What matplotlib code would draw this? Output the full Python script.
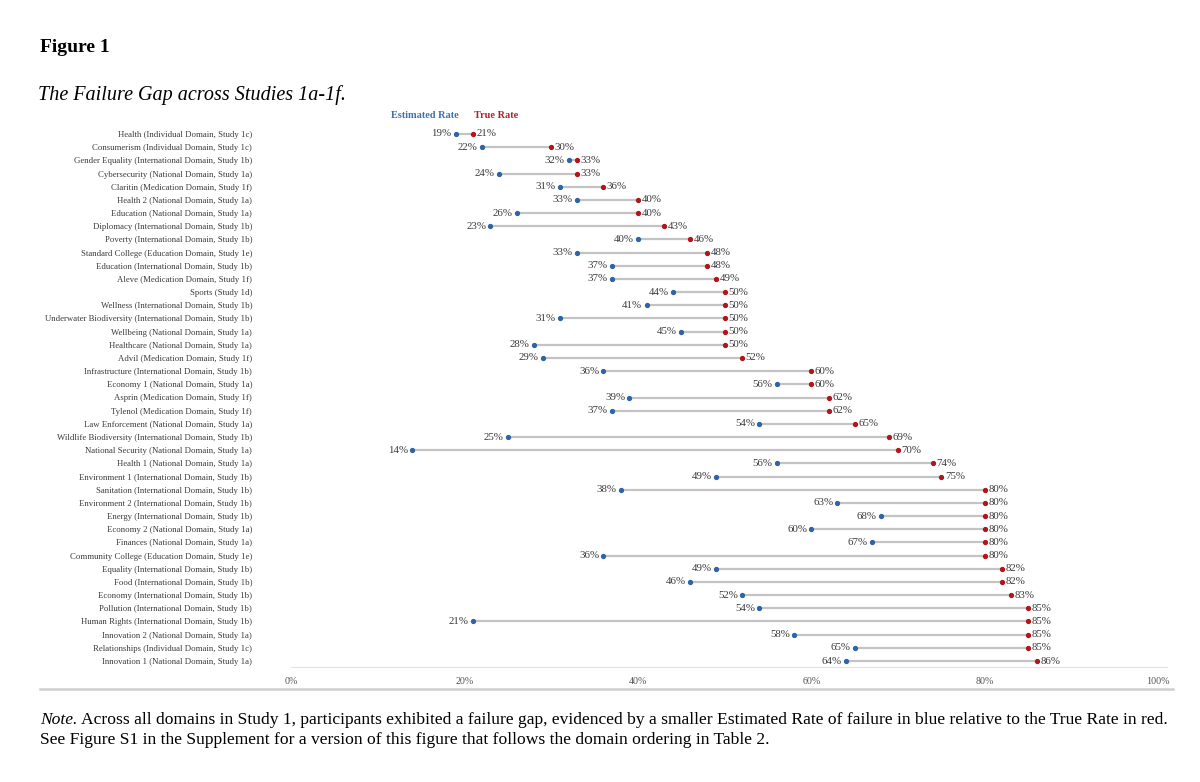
import matplotlib
matplotlib.use("Agg")
import matplotlib.pyplot as plt
from matplotlib.lines import Line2D

Domains = [
    "Health (Individual Domain, Study 1c)",
    "Consumerism (Individual Domain, Study 1c)",
    "Gender Equality (International Domain, Study 1b)",
    "Cybersecurity (National Domain, Study 1a)",
    "Claritin (Medication Domain, Study 1f)",
    "Health 2 (National Domain, Study 1a)",
    "Education (National Domain, Study 1a)",
    "Diplomacy (International Domain, Study 1b)",
    "Poverty (International Domain, Study 1b)",
    "Standard College (Education Domain, Study 1e)",
    "Education (International Domain, Study 1b)",
    "Aleve (Medication Domain, Study 1f)",
    "Sports (Study 1d)",
    "Wellness (International Domain, Study 1b)",
    "Underwater Biodiversity (International Domain, Study 1b)",
    "Wellbeing (National Domain, Study 1a)",
    "Healthcare (National Domain, Study 1a)",
    "Advil (Medication Domain, Study 1f)",
    "Infrastructure (International Domain, Study 1b)",
    "Economy 1 (National Domain, Study 1a)",
    "Asprin (Medication Domain, Study 1f)",
    "Tylenol (Medication Domain, Study 1f)",
    "Law Enforcement (National Domain, Study 1a)",
    "Wildlife Biodiversity (International Domain, Study 1b)",
    "National Security (National Domain, Study 1a)",
    "Health 1 (National Domain, Study 1a)",
    "Environment 1 (International Domain, Study 1b)",
    "Sanitation (International Domain, Study 1b)",
    "Environment 2 (International Domain, Study 1b)",
    "Energy (International Domain, Study 1b)",
    "Economy 2 (National Domain, Study 1a)",
    "Finances (National Domain, Study 1a)",
    "Community College (Education Domain, Study 1e)",
    "Equality (International Domain, Study 1b)",
    "Food (International Domain, Study 1b)",
    "Economy (International Domain, Study 1b)",
    "Pollution (International Domain, Study 1b)",
    "Human Rights (International Domain, Study 1b)",
    "Innovation 2 (National Domain, Study 1a)",
    "Relationships (Individual Domain, Study 1c)",
    "Innovation 1 (National Domain, Study 1a)",
]

EstimatedRate = [19, 22, 32, 24, 31, 33, 26, 23, 40, 33, 37, 37, 44, 41, 31, 45, 28, 29, 36, 56,
                 39, 37, 54, 25, 14, 56, 49, 38, 63, 68, 60, 67, 36, 49, 46, 52, 54, 21, 58, 65, 64]
TrueRate = [21, 30, 33, 33, 36, 40, 40, 43, 46, 48, 48, 49, 50, 50, 50, 50, 50, 52, 60, 60,
            62, 62, 65, 69, 70, 74, 75, 80, 80, 80, 80, 80, 80, 82, 82, 83, 85, 85, 85, 85, 86]

Ticks = [0, 20, 40, 60, 80, 100]
TickLabels = ["0%", "20%", "40%", "60%", "80%", "100%"]

BlueDot = "#2e64a8"
RedDot = "#b3151b"
GapGray = "#c3c3c3"
TextGray = "#3a3a3a"
SERIF = ["Liberation Serif", "DejaVu Serif"]

plt.rcParams["font.family"] = SERIF

Figure = plt.figure(figsize=(12, 7.82), dpi=100)
Ax = Figure.add_axes([291 / 1200, (782 - 667) / 782, 876 / 1200, 547 / 782])

Rows = list(range(len(Domains)))

# gap lines and the two dots per domain
for i in Rows:
    Ax.plot([EstimatedRate[i], TrueRate[i]], [i, i], color=GapGray, lw=1.6,
            solid_capstyle="butt", zorder=1)
Ax.plot(EstimatedRate, Rows, "o", color=BlueDot, ms=2.8, zorder=3)
Ax.plot(TrueRate, Rows, "o", color=RedDot, ms=2.8, zorder=3)

# value labels
for i in Rows:
    Ax.annotate(str(EstimatedRate[i]) + "%", (EstimatedRate[i], i), xytext=(-3, 0),
                textcoords="offset points", ha="right", va="center",
                fontsize=7.8, color=TextGray)
    Ax.annotate(str(TrueRate[i]) + "%", (TrueRate[i], i), xytext=(2.5, 0),
                textcoords="offset points", ha="left", va="center",
                fontsize=7.8, color=TextGray)

Ax.set_xlim(0, 101)
Ax.set_ylim(40 + 6 / 13.175, -14 / 13.175)
Ax.set_yticks(Rows)
Ax.set_yticklabels(Domains, fontsize=6.35, color=TextGray)
Ax.set_xticks(Ticks)
Ax.set_xticklabels(TickLabels, fontsize=7.2, color="#555555")
Ax.tick_params(axis="y", length=0, pad=28)
Ax.tick_params(axis="x", length=0, pad=7)

for Side in ["top", "right", "left"]:
    Ax.spines[Side].set_visible(False)
Ax.spines["bottom"].set_color("#e2e2e2")
Ax.spines["bottom"].set_linewidth(0.8)

# long rule under the chart
Figure.add_artist(Line2D([40 / 1200, 1173 / 1200], [1 - 689 / 782, 1 - 689 / 782],
                         color="#cfcfcf", lw=1.8, transform=Figure.transFigure))

# titles and legend
Figure.text(40 / 1200, 1 - 47 / 782, "Figure 1", fontsize=14, fontweight="bold",
            va="center", ha="left", color="black")
Figure.text(38 / 1200, 1 - 95 / 782, "The Failure Gap across Studies 1a-1f.", fontsize=14.5,
            style="italic", va="center", ha="left", color="black")
Figure.text(391 / 1200, 1 - 115 / 782, "Estimated Rate", fontsize=7.4, fontweight="bold",
            color="#3f6fae", va="center", ha="left")
Figure.text(474 / 1200, 1 - 115 / 782, "True Rate", fontsize=7.4, fontweight="bold",
            color="#b0232a", va="center", ha="left")

# note
Figure.text(40 / 1200, 1 - 720 / 782, "Note.", fontsize=12.6, style="italic",
            va="center", ha="left", color="black")
Figure.text(81 / 1200, 1 - 720 / 782,
            "Across all domains in Study 1, participants exhibited a failure gap, evidenced by a smaller "
            "Estimated Rate of failure in blue relative to the True Rate in red.",
            fontsize=12.6, va="center", ha="left", color="black")
Figure.text(40 / 1200, 1 - 740 / 782,
            "See Figure S1 in the Supplement for a version of this figure that follows the domain ordering in Table 2.",
            fontsize=12.6, va="center", ha="left", color="black")

Figure.savefig("out.png", dpi=100, facecolor="white")
